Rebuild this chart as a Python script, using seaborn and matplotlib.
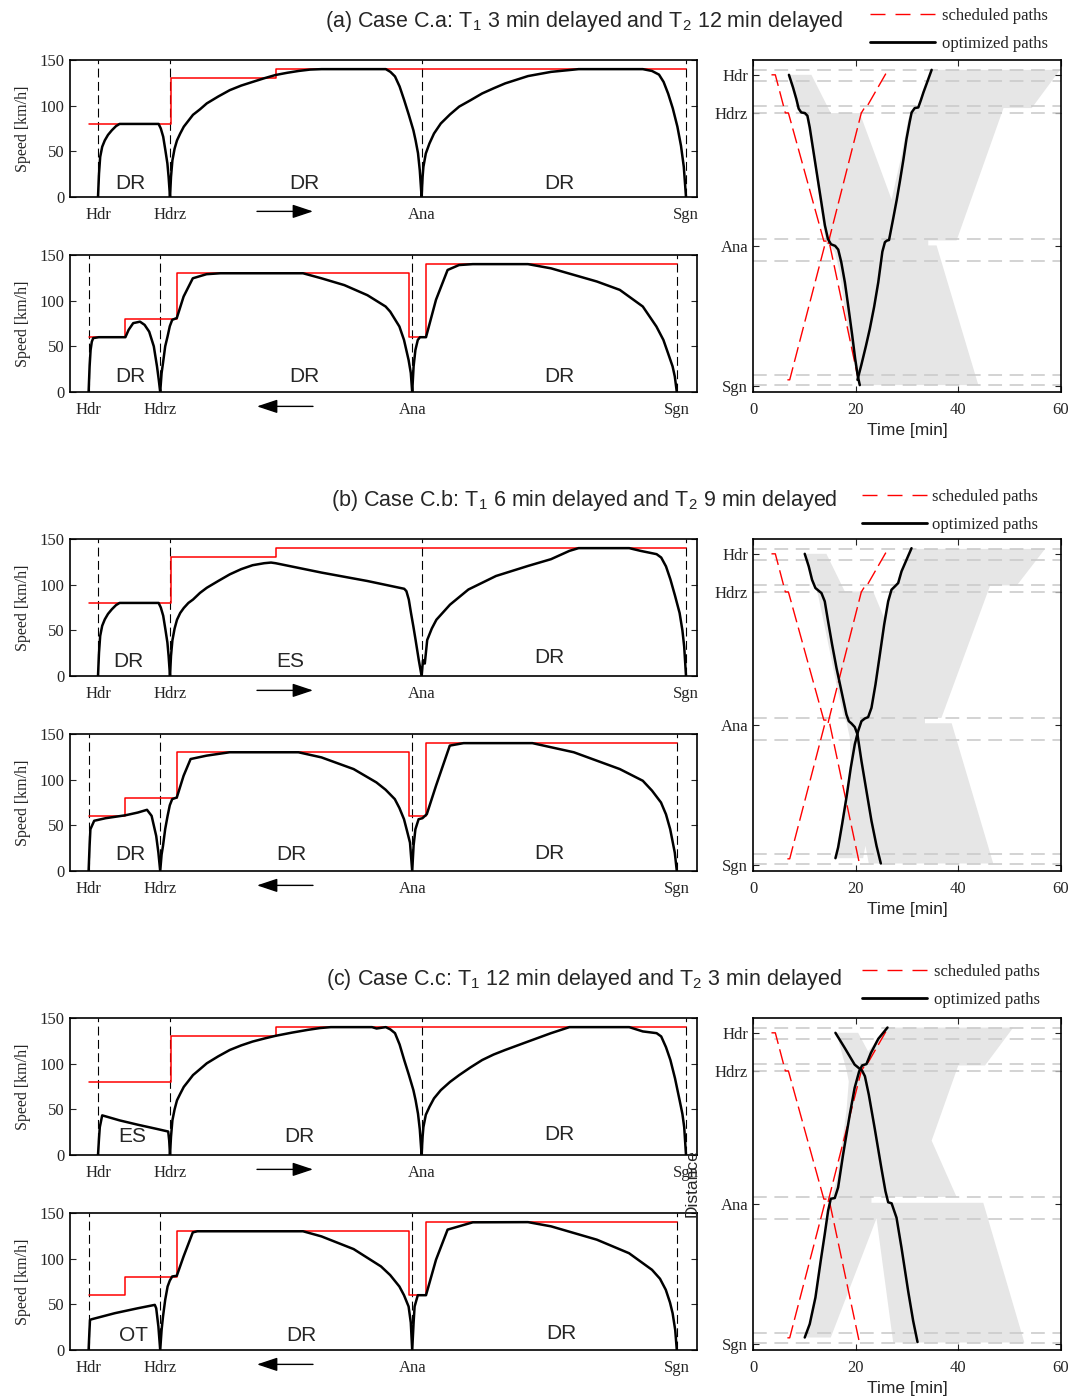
import matplotlib
matplotlib.use("Agg")
import matplotlib.pyplot as plt
from matplotlib.lines import Line2D
import seaborn as sns

# ---------------- data ----------------
STATIONS = ["Hdr", "Hdrz", "Ana", "Sgn"]
E_POS = [0.0, 3.6, 16.18, 29.4]          # eastbound stop positions [km]
W_POS = [-0.47, 3.11, 15.71, 28.94]      # westbound stop positions [km]
E_LIMIT_D = [-0.46, 3.67, 8.88, 29.4]
E_LIMIT_V = [80, 130, 140, 140]
W_LIMIT_D = [-0.47, 1.37, 3.94, 15.53, 16.4, 28.94]
W_LIMIT_V = [60, 80, 130, 60, 140, 140]
BLOCK_LINES = [-0.45, 0.6, 2.95, 3.65, 15.5, 17.6, 28.3, 29.3]

# speed profiles (distance km, speed km/h)
A_E_D = [0, 0.05, 0.11, 0.21, 0.34, 0.5, 0.69, 0.9, 1.08, 3.03, 3.14, 3.26, 3.37, 3.47, 3.53, 3.6,
         3.65, 3.72, 3.83, 3.95, 4.11, 4.29, 4.52, 4.75, 5.1, 5.44, 6.01, 6.59, 7.16, 7.73, 8.31, 8.88, 9.46,
         10.03, 10.6, 11.18, 14.39, 14.62, 14.85, 15.08, 15.31, 15.54, 15.77, 15.88, 16.0, 16.09, 16.18,
         16.23, 16.27, 16.39, 16.57, 16.8, 17.14, 17.6, 18.06, 18.63, 19.21, 19.78, 20.36, 21.5, 22.65, 24.03,
         27.24, 27.7, 28.05, 28.28, 28.51, 28.74, 28.97, 29.15, 29.29, 29.4]
A_E_V = [0, 25.6, 44, 55, 62, 68, 73, 77.6, 80, 80, 75, 66, 51, 36.6, 22, 0,
         22, 40, 53, 62, 69.5, 77, 83.5, 90, 96, 102.5, 110, 117, 122, 126, 130, 133.6, 136,
         138, 139.5, 140, 140, 137, 132, 121, 106, 90, 73, 62, 48, 29, 0,
         22, 33, 47.6, 58.5, 69.5, 80.5, 90.4, 99, 106, 113.4, 119, 124.4, 132.4, 137, 140,
         140, 138, 134, 126, 113, 97, 77, 56, 33, 0]
A_W_D = [-0.47, -0.42, -0.37, -0.31, -0.24, 0.04, 1.37, 1.53, 1.76, 2.1, 2.33, 2.56, 2.79, 2.95, 3.04, 3.11,
         3.18, 3.25, 3.36, 3.48, 3.59, 3.71, 3.94, 4.28, 4.74, 5.43, 6.12, 10.25, 11.17, 12.32, 13.47, 14.38,
         14.61, 15.07, 15.3, 15.53, 15.64, 15.71,
         15.78, 15.87, 15.99, 16.1, 16.4, 16.9, 17.48, 18.05, 18.74, 21.5, 22.65, 24.94, 26.09, 27.24, 27.92,
         28.27, 28.5, 28.73, 28.84, 28.94]
A_W_V = [0, 28, 46, 55, 59, 60, 60, 68, 75.4, 77, 73.5, 66, 50, 28, 13, 0,
         20.7, 31.7, 50, 61, 72, 79, 81, 104.5, 124.5, 129, 130, 130, 124.5, 117, 106, 93.6,
         88, 71.7, 57, 35, 20.8, 0,
         28, 46, 57, 60, 60, 101, 133.6, 139, 140, 140, 135.4, 121, 111.8, 93.6, 71.7,
         57, 42.6, 28, 17, 0]
B_E_D = [0, 0.05, 0.11, 0.21, 0.34, 0.5, 0.69, 0.9, 1.08, 3.03, 3.14, 3.26, 3.37, 3.47, 3.53, 3.6,
         3.65, 3.72, 3.83, 3.95, 4.11, 4.29, 4.52, 4.75, 5.1, 5.44, 6.01, 6.59, 7.16, 7.73, 8.31, 8.65, 8.88,
         11.18, 13.47, 15.31, 15.42, 15.54, 15.65, 15.77, 15.88, 16.04, 16.18,
         16.25, 16.34, 16.46, 16.69, 16.92, 17.6, 18.52, 19.9, 21.5, 22.65, 23.57, 24.03, 26.56, 27.13, 27.93,
         28.16, 28.4, 28.62, 28.85, 29.08, 29.22, 29.31, 29.4]
B_E_V = [0, 25.6, 44, 55, 62, 68, 73, 77.6, 80, 80, 75, 66, 51, 36.6, 22, 0,
         22, 39, 52, 61.6, 69, 74.5, 80, 83.7, 91, 96.6, 104, 111.3, 117, 121.3, 123.5, 124.2, 123.5,
         113.2, 104, 95.5, 92.9, 83.7, 69, 54, 39.4, 17.3, 0,
         17.3, 13.6, 39.4, 52, 61.6, 78.1, 94.7, 109.5, 120.5, 127.9, 137, 140, 140, 137, 133.4,
         129.7, 120, 105.8, 88, 69, 50, 32, 0]
B_W_D = [-0.47, -0.42, -0.38, -0.19, 0.38, 1.37, 1.99, 2.45, 2.68, 2.91, 3.02, 3.11,
         3.18, 3.25, 3.36, 3.48, 3.59, 3.71, 3.94, 4.28, 4.63, 5.43, 6.58, 10.02, 11.17, 12.78, 13.92, 14.38,
         14.84, 15.07, 15.3, 15.45, 15.6, 15.71,
         15.78, 15.87, 16.03, 16.22, 16.44, 16.9, 17.59, 18.28, 21.72, 23.79, 26.09, 27.24, 27.7, 28.15,
         28.4, 28.61, 28.84, 28.94]
B_W_V = [0, 28, 45.7, 55, 57.8, 61, 64, 67, 60.4, 38.4, 20, 0,
         18, 27.5, 46, 60.4, 72, 78.7, 80.5, 104.3, 122.6, 126.3, 130, 130, 124.4, 111.6, 97, 89,
         78.7, 69, 56.7, 44, 31, 0,
         28, 45.7, 56.7, 57.8, 62.2, 93.3, 137.3, 140, 140, 130, 111.6, 98.8, 88, 75,
         62, 45.7, 20, 0]
C_E_D = [0, 0.05, 0.09, 0.21, 1.08, 2.0, 2.91, 3.51, 3.56, 3.6,
         3.65, 3.72, 3.83, 3.95, 4.11, 4.29, 4.52, 4.75, 5.1, 5.44, 6.01, 6.59, 7.16, 7.73, 8.31, 8.88, 9.7,
         10.49, 11.1, 11.64, 13.7, 13.93, 14.39, 14.62, 14.85, 15.08, 15.31, 15.54, 15.77, 15.88, 16.0,
         16.09, 16.18,
         16.23, 16.27, 16.39, 16.57, 16.8, 17.14, 17.6, 18.06, 18.63, 19.21, 19.78, 20.36, 21.5, 22.65, 23.57,
         26.56, 27.24, 27.93, 28.16, 28.4, 28.62, 28.85, 29.08, 29.22, 29.31, 29.4]
C_E_V = [0, 18, 30.5, 43.4, 37.9, 33.1, 28.7, 25.7, 15.8, 0,
         20, 37.9, 50, 59.9, 67, 74.6, 81, 87.5, 94, 100.4, 108, 115, 120, 124.2, 127.5, 130.5, 134,
         137, 139, 140, 140, 138.5, 140, 137.5, 133.4, 121, 104, 88, 71, 60, 45.2,
         28, 0,
         20, 30.5, 44, 52.6, 62, 71, 80, 87.5, 96, 104, 110, 115, 124.2, 133.4, 140,
         140, 135.3, 133.4, 129.8, 118, 104, 84, 60, 45, 30.5, 0]
C_W_D = [-0.47, -0.43, -0.4, -0.31, 0.84, 1.99, 2.84, 2.91, 3.02, 3.11,
         3.18, 3.25, 3.36, 3.48, 3.59, 3.71, 3.94, 4.28, 4.74, 4.97, 10.25, 11.17, 12.78, 14.15, 14.61,
         15.07, 15.3, 15.53, 15.64, 15.71,
         15.78, 15.83, 15.99, 16.4, 16.9, 17.48, 18.05, 18.74, 21.5, 22.65, 24.94, 26.55, 27.7, 28.1, 28.39,
         28.6, 28.73, 28.86, 28.94]
C_W_V = [0, 20, 33, 33.7, 40.3, 45.7, 49.4, 45.7, 25.6, 0,
         22, 36.6, 55, 69.5, 76, 80.5, 81.3, 102.5, 128.8, 130, 130, 124.4, 110.5, 91.5, 82,
         69.5, 60, 47.6, 30, 0,
         30, 47.6, 60, 60, 98.8, 131.8, 135.4, 139.8, 140, 135.4, 120.8, 106, 87.8, 78, 65.9,
         52, 40.3, 22, 0]

# regime labels
A_E_LAB = ["DR", "DR", "DR"]
A_W_LAB = ["DR", "DR", "DR"]
B_E_LAB = ["DR", "ES", "DR"]
B_W_LAB = ["DR", "DR", "DR"]
C_E_LAB = ["ES", "DR", "DR"]
C_W_LAB = ["OT", "DR", "DR"]

# time-distance: scheduled paths (min, km)
SCHED_E_T = [3.6, 4.35, 6.3, 6.9, 13.8, 14.6, 14.95, 20.8]
SCHED_E_D = [0, 0, 3.6, 3.6, 15.7, 15.7, 16.05, 29.4]
SCHED_W_T = [6.7, 7.15, 14.0, 14.6, 14.75, 21.1, 21.65, 22.1, 26.3]
SCHED_W_D = [28.8, 28.8, 16.05, 16.05, 15.7, 3.6, 3.17, 3.08, -0.47]

# optimized paths
A_E_T = [7.0, 7.8, 8.45, 8.9, 9.4, 10.1, 10.6, 11.05, 11.7, 12.5, 13.3, 14.0, 14.6, 15.2, 16.0, 16.6, 17.2,
         17.9, 18.6, 19.3, 19.9, 20.4, 20.8]
A_E_X = [0, 1.2, 2.3, 3.2, 3.55, 3.61, 3.86, 4.96, 7.0, 9.5, 12.0, 14.2, 15.5, 16.0, 16.15, 16.5, 17.7,
         19.6, 22.0, 24.5, 26.8, 28.4, 29.3]
A_W_T = [20.35, 21.1, 22.0, 22.75, 23.6, 24.4, 25.2, 25.7, 26.1, 26.5, 27.3, 28.0, 28.6, 29.3, 29.9, 30.5,
         30.9, 31.5, 32.2, 32.7, 33.2, 34.0, 34.8]
A_W_X = [28.8, 27.4, 25.6, 24.0, 21.9, 19.6, 16.7, 15.8, 15.65, 15.6, 13.6, 11.8, 10.1, 8.0, 6.06, 4.5,
         3.55, 3.14, 3.08, 2.4, 1.66, 0.6, -0.47]
B_E_T = [10.08, 10.86, 11.5, 12.16, 12.8, 13.33, 13.98, 14.63, 15.41, 16.26, 17.23, 18.2, 18.66, 19.18,
         19.83, 20.35, 21.13, 22.1, 23.08, 24.06, 24.9]
B_E_X = [0, 1.19, 2.45, 3.23, 3.49, 3.7, 4.49, 6.38, 8.57, 10.77, 12.97, 15.17, 15.8, 16.02,
         16.36, 17.05, 19.57, 22.39, 25.22, 27.57, 29.24]
B_W_T = [16.06, 16.58, 17.36, 18.2, 19.05, 19.83, 20.48, 21.13, 21.78, 22.43, 23.08, 23.86, 24.71, 25.55,
         26.33, 26.98, 27.63, 28.28, 28.93, 29.9, 30.88]
B_W_X = [28.74, 27.73, 25.53, 23.02, 20.19, 17.99, 16.74, 15.8, 15.55, 15.42, 14.54, 12.34, 9.52, 6.69,
         4.49, 3.39, 3.08, 2.76, 1.66, 0.57, -0.53]
C_E_T = [16.06, 17.9, 19.8, 20.8, 21.26, 21.8, 22.56, 23.7, 25.0, 25.8, 26.33, 27.0, 27.96, 28.93, 30.23,
         31.2, 32.05]
C_E_X = [0, 1.45, 3.0, 3.4, 3.58, 4.1, 5.84, 9.0, 12.75, 14.95, 16.0, 16.1, 17.46, 20.3, 24.4,
         27.2, 29.2]
C_W_T = [10.08, 11.05, 12.16, 13.2, 13.98, 14.63, 15.15, 15.93, 16.58, 17.55, 18.86, 19.8, 20.68, 21.26,
         22.1, 22.95, 24.4, 26.2]
C_W_X = [28.77, 27.5, 25.0, 21.5, 19.0, 16.8, 15.67, 15.6, 14.6, 11.5, 7.7, 5.2, 3.64, 3.08,
         2.95, 1.92, 0.57, -0.5]

# grey regions (outline vertices, min / km)
A_GREY_T = [7.15, 11.38, 15.15, 20.8, 27.0, 27.76, 28.93, 30.23, 31.2, 32.05, 33.16, 34.8, 59.8, 54.3, 48.8,
            39.66, 34.14, 34.14, 35.76, 43.9, 20.8, 20.16, 19.18, 17.88, 16.9, 15.93, 14.95, 14.3, 13.98,
            13.2, 12.03, 11.05, 10.4, 9.56, 8.78]
A_GREY_D = [0, 0, 3.61, 3.61, 11.78, 10.14, 7.63, 4.18, 3.23, 2.92, 1.51, -0.47, -0.47, 3.14, 3.14,
            15.64, 15.64, 16.11, 16.11, 29.3, 29.3, 28.36, 25.85, 22.08, 18.62, 16.74, 16.11, 15.95, 15.17,
            12.66, 8.57, 5.75, 4.02, 3.61, 3.23]
B_GREY_T = [10.4, 14.3, 17.88, 23.4, 25.55, 26.46, 27.1, 27.96, 28.8, 30.75, 56.9, 51.4, 46.2, 36.7, 33.5,
            33.5, 38.7, 46.8, 22.56, 21.9, 21.46, 16.26, 17.03, 17.88, 19.05, 18.86, 18.2, 17.75, 16.26,
            14.3, 12.55, 11.7, 11.05]
B_GREY_D = [0, 0, 3.55, 3.55, 6.06, 3.86, 3.17, 2.92, 1.66, -0.47, -0.47, 2.98, 2.98, 15.5, 15.5,
            16.0, 16.0, 29.24, 29.24, 27.57, 28.74, 28.74, 25.85, 23.3, 20.2, 17.37, 15.86, 15.5, 12.34,
            7.63, 3.61, 2.92, 1.35]
C_GREY_T = [16.26, 20.48, 22.43, 24.38, 26.2, 50.7, 45.2, 39.99, 34.8, 39.66, 23.08, 23.08, 44.86, 52.86,
            27.31, 24.06, 15.15, 10.4, 11.38, 12.35, 13.46, 14.3, 15.15, 16.26, 17.23, 18.2, 18.66, 18.2,
            17.23]
C_GREY_D = [0, 0, 1.76, 0.57, -0.5, -0.5, 3.08, 3.08, 10.18, 15.5, 15.5, 16.05, 16.05, 29.24,
            29.24, 17.52, 28.77, 28.77, 27.2, 24.69, 20.92, 17.78, 15.73, 14.0, 10.87, 7.41, 4.59, 3.49,
            1.76]

TITLES = ["(a) Case C.a: T$_1$ 3 min delayed and T$_2$ 12 min delayed",
          "(b) Case C.b: T$_1$ 6 min delayed and T$_2$ 9 min delayed",
          "(c) Case C.c: T$_1$ 12 min delayed and T$_2$ 3 min delayed"]

# ---------------- style ----------------
sns.set_style("ticks")
plt.rcParams['font.family'] = ['Liberation Serif', 'DejaVu Serif']
plt.rcParams['mathtext.default'] = 'regular'
plt.rcParams['axes.edgecolor'] = 'black'
plt.rcParams['axes.linewidth'] = 1.2
SANS = ['Liberation Sans', 'DejaVu Sans']
DASH = (0, (8, 4))
DASH_RED = (0, (11, 4))
DASH_LEG = (0, (10.8, 7.2))
DASH_BLOCK = (0, (9, 5))
GREY = '#e6e6e6'

W, H = 1080, 1400
fig = plt.figure(figsize=(W / 100, H / 100), dpi=100)


def rect(x0, y0, x1, y1):
    return [x0 / W, 1 - y1 / H, (x1 - x0) / W, (y1 - y0) / H]


def speed_axes(ax, pos, lim_d, lim_v, d, v, labels, lab_x, lab_y, arrow_right):
    for p in pos:
        ax.axvline(p, color='k', lw=0.8, ls=DASH, zorder=1)
    sns.lineplot(x=lim_d, y=lim_v, drawstyle='steps-post', color='red', lw=1.1, ax=ax,
                 estimator=None, sort=False, zorder=2)
    sns.lineplot(x=d, y=v, color='black', lw=1.8, ax=ax, estimator=None, sort=False, zorder=3)
    for lab, x, y in zip(labels, lab_x, lab_y):
        ax.text(x, y, lab, ha='center', va='center', fontsize=15, family=SANS)
    ax.set_xlim(-1.4, 29.95)
    ax.set_ylim(0, 150)
    ax.set_xticks(pos)
    ax.set_xticklabels(STATIONS)
    ax.set_yticks([0, 50, 100, 150])
    ax.tick_params(axis='x', length=0, pad=7, labelsize=12)
    ax.tick_params(axis='y', direction='in', right=True, length=4, labelsize=12, pad=4)
    ax.set_ylabel('Speed [km/h]', fontsize=11.5, labelpad=6)
    ax.set_xlabel('')
    if arrow_right:
        a0, a1 = 7.95, 10.75
    else:
        a0, a1 = 10.75, 7.95
    ax.annotate('', xy=(a1, -0.105), xytext=(a0, -0.105), xycoords=('data', 'axes fraction'),
                textcoords=('data', 'axes fraction'),
                arrowprops=dict(arrowstyle='-|>,head_length=0.9,head_width=0.3', color='k', lw=1,
                                mutation_scale=14, shrinkA=0, shrinkB=0))


def td_axes(ax, gt, gd, et, ed, wt, wd):
    ax.fill(gt, gd, color=GREY, lw=0, zorder=0)
    for y in BLOCK_LINES:
        ax.axhline(y, color='#c8c8c8', lw=1.1, ls=DASH_BLOCK, zorder=1)
    sns.lineplot(x=SCHED_E_T, y=SCHED_E_D, color='red', lw=1.0, linestyle=DASH_RED, ax=ax,
                 estimator=None, sort=False, zorder=2)
    sns.lineplot(x=SCHED_W_T, y=SCHED_W_D, color='red', lw=1.0, linestyle=DASH_RED, ax=ax,
                 estimator=None, sort=False, zorder=2)
    sns.lineplot(x=et, y=ed, color='black', lw=1.8, ax=ax, estimator=None, sort=False, zorder=3)
    sns.lineplot(x=wt, y=wd, color='black', lw=1.8, ax=ax, estimator=None, sort=False, zorder=3)
    ax.set_xlim(0, 60)
    ax.set_ylim(29.95, -1.4)
    ax.set_xticks([0, 20, 40, 60])
    ax.set_yticks(E_POS)
    ax.set_yticklabels(STATIONS)
    ax.tick_params(direction='in', top=True, right=True, length=4, labelsize=12)
    ax.tick_params(axis='x', pad=7)
    ax.set_xlabel('Time [min]', fontsize=12.5, family=SANS, labelpad=4)
    ax.set_ylabel('')


panels = [
    (0, A_E_D, A_E_V, A_W_D, A_W_V, A_E_LAB, A_W_LAB,
     [1.6, 10.3, 23.05], [15, 15, 15], [1.6, 10.3, 23.05], [17, 17, 17],
     A_GREY_T, A_GREY_D, A_E_T, A_E_X, A_W_T, A_W_X, 870, 942, 16),
    (479, B_E_D, B_E_V, B_W_D, B_W_V, B_E_LAB, B_W_LAB,
     [1.5, 9.6, 22.55], [16.4, 16.4, 20.8], [1.6, 9.65, 22.55], [18.6, 18.6, 19.7],
     B_GREY_T, B_GREY_D, B_E_T, B_E_X, B_W_T, B_W_X, 862, 932, 497),
    (958, C_E_D, C_E_V, C_W_D, C_W_V, C_E_LAB, C_W_LAB,
     [1.7, 10.05, 23.05], [20.8, 20.8, 21.9], [1.8, 10.15, 23.15], [16.4, 16.4, 18.6],
     C_GREY_T, C_GREY_D, C_E_T, C_E_X, C_W_T, C_W_X, 862, 934, 972),
]

for i, (off, ed, ev, wd, wv, elab, wlab, elx, ely, wlx, wly, gt, gd, et, ex, wt, wx, lgx, lgtx, lgy) in enumerate(panels):
    ax1 = fig.add_axes(rect(70, 60 + off, 697, 197 + off))
    speed_axes(ax1, E_POS, E_LIMIT_D, E_LIMIT_V, ed, ev, elab, elx, ely, True)
    ax2 = fig.add_axes(rect(70, 255 + off, 697, 392 + off))
    speed_axes(ax2, W_POS, W_LIMIT_D, W_LIMIT_V, wd, wv, wlab, wlx, wly, False)
    ax3 = fig.add_axes(rect(753, 60 + off, 1061, 392 + off))
    td_axes(ax3, gt, gd, et, ex, wt, wx)

    fig.text(584 / W, 1 - (21 + off) / H, TITLES[i], ha='center', va='center', fontsize=15.5, family=SANS)

    handles = [Line2D([], [], color='red', lw=1.0, ls=DASH_LEG),
               Line2D([], [], color='black', lw=2.0)]
    fig.legend(handles, ['scheduled paths', 'optimized paths'], loc='upper left',
               bbox_to_anchor=(lgx / W, 1 - (lgy - 8) / H), frameon=False,
               handlelength=65 / 16.7, handletextpad=(lgtx - lgx - 65) / 16.7,
               labelspacing=0.72, borderpad=0, borderaxespad=0, fontsize=12)

fig.text(692 / W, 1 - 1183 / H, 'Distance', rotation=90, ha='center', va='center',
         fontsize=12.5, family=SANS)

fig.savefig('out.png', dpi=100)
